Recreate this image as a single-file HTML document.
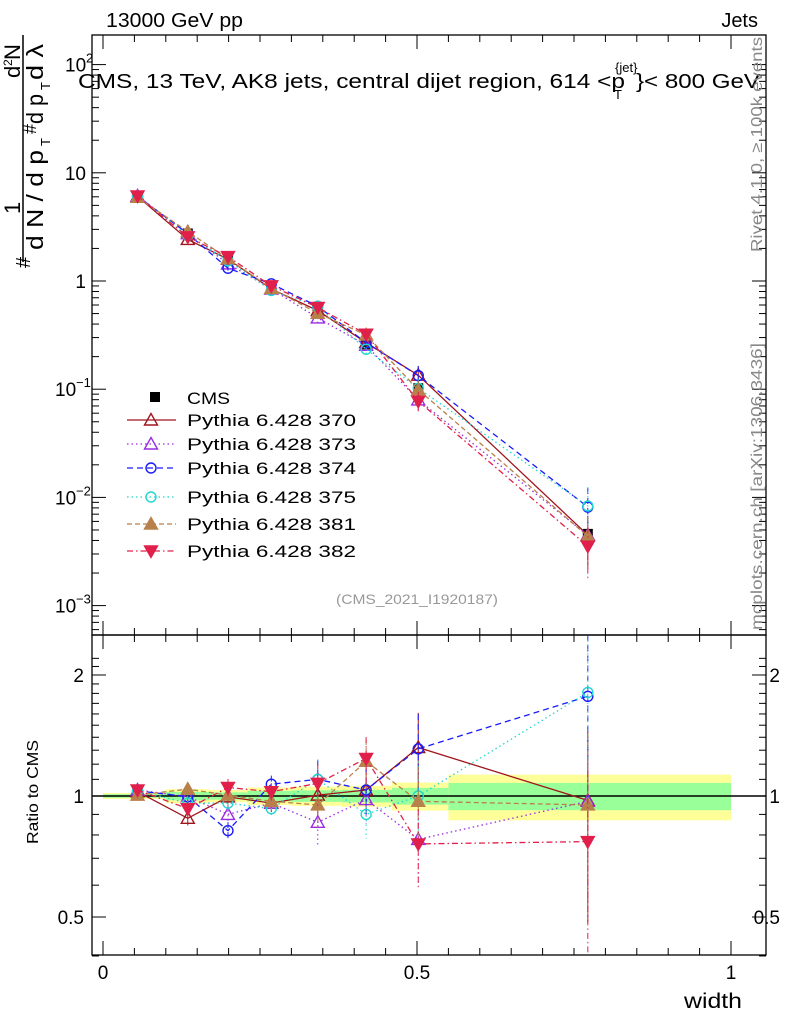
<!DOCTYPE html>
<html><head><meta charset="utf-8"><style>
body{margin:0;background:#fff;font-family:"Liberation Sans",sans-serif}
svg{display:block}
</style></head><body>
<svg id="c" width="786" height="1024" xmlns="http://www.w3.org/2000/svg" font-family="Liberation Sans, sans-serif"></svg>
<script>
const xs=[0.055,0.135,0.199,0.268,0.342,0.419,0.502,0.772];
const edges=[0,0.1,0.17,0.23,0.3,0.38,0.46,0.55,1.0];
const cms=[5.9,2.75,1.6,0.88,0.53,0.26,0.102,0.0046];
const bandY=[0.017,0.04,0.035,0.05,0.055,0.06,0.08,0.13];
const mcErr=[0.01,0.04,0.05,0.05,0.12,0.13,0.22,0.5];
const r370=[1.025,0.88,0.995,0.96,1.005,1.035,1.32,0.975];
const r373=[1.035,0.996,0.90,0.96,0.86,0.98,0.78,0.97];
const r374=[1.03,0.996,0.82,1.07,1.10,1.035,1.31,1.77];
const r375=[1.03,0.96,0.96,0.93,1.10,0.90,1.0,1.81];
const r381=[1.005,1.04,1.005,0.97,0.95,1.22,0.97,0.95];
const r382=[1.035,0.93,1.05,1.025,1.075,1.24,0.76,0.77];
const series=[
 {n:'Pythia 6.428 370',r:r370,c:'#a0141e',d:'',m:'tri',f:false,name:'series-370'},
 {n:'Pythia 6.428 373',r:r373,c:'#9a2be2',d:'1.5,3',m:'tri',f:false,name:'series-373'},
 {n:'Pythia 6.428 374',r:r374,c:'#1a1aff',d:'6,4',m:'circ',f:false,name:'series-374'},
 {n:'Pythia 6.428 375',r:r375,c:'#22d6d0',d:'1.5,3',m:'circ',f:false,name:'series-375'},
 {n:'Pythia 6.428 381',r:r381,c:'#b8804a',d:'5,3',m:'tri',f:true,name:'series-381'},
 {n:'Pythia 6.428 382',r:r382,c:'#e0204a',d:'6,3,1.5,3',m:'tdown',f:true,name:'series-382'}];
const legY=[420,444,468,497,524,551];

const S=document.getElementById('c');const NS='http://www.w3.org/2000/svg';
function el(t,a,p){const e=document.createElementNS(NS,t);for(const k in a)e.setAttribute(k,a[k]);(p||S).appendChild(e);return e;}
function tx(x,y,s,a,p){const e=el('text',Object.assign({x:x,y:y},a),p);e.textContent=s;return e;}
const X=v=>103+628*v;
const Ym=v=>281-108.2*Math.log10(v);
const Yr=v=>796-402*Math.log10(v);
const L=92,R=766,T=35,M=635,B=955;

const defs=el('defs',{});
const c1=el('clipPath',{id:'cm'},defs);el('rect',{x:L,y:T,width:R-L,height:M-T},c1);
const c2=el('clipPath',{id:'cr'},defs);el('rect',{x:L,y:M,width:R-L,height:B-M},c2);

const gb=el('g',{'clip-path':'url(#cr)'});

for(let i=0;i<8;i++){const x0=X(edges[i]),x1=X(edges[i+1]);
 el('rect',{x:x0,y:Yr(1+bandY[i]),width:x1-x0,height:Yr(1-bandY[i])-Yr(1+bandY[i]),fill:'#ffff99'},gb);
 el('rect',{x:x0,y:Yr(1+bandY[i]*0.6),width:x1-x0,height:Yr(1-bandY[i]*0.6)-Yr(1+bandY[i]*0.6),fill:'#99ff99'},gb);}
el('line',{x1:L,x2:R,y1:796,y2:796,stroke:'#000','stroke-width':1.5});

function marker(g,t,x,y,c,f){
 if(t==='tri')el('polygon',{points:`${x},${y-6.5} ${x-6.5},${y+5} ${x+6.5},${y+5}`,fill:f?c:'none',stroke:c,'stroke-width':1.4},g);
 else if(t==='tdown')el('polygon',{points:`${x},${y+6.5} ${x-6.5},${y-5} ${x+6.5},${y-5}`,fill:f?c:'none',stroke:c,'stroke-width':1.4},g);
 else if(t==='circ')el('circle',{cx:x,cy:y,r:5,fill:'none',stroke:c,'stroke-width':1.4},g);
 else el('rect',{x:x-5,y:y-5,width:10,height:10,fill:c},g);
}
const gd=el('g',{'clip-path':'url(#cm)'});

xs.forEach((x,i)=>marker(gd,'sq',X(x),Ym(cms[i]),'#000'));
series.forEach(s=>{
 const vm=s.r.map((r,i)=>r*cms[i]);
 const gm=el('g',{'clip-path':'url(#cm)'});
 
 el('polyline',{points:xs.map((x,i)=>X(x)+','+Ym(vm[i])).join(' '),fill:'none',stroke:s.c,'stroke-width':1.3,'stroke-dasharray':s.d},gm);
 xs.forEach((x,i)=>{const e=mcErr[i];el('line',{x1:X(x),x2:X(x),y1:Ym(vm[i]*(1+e)),y2:Ym(Math.max(vm[i]*(1-e),1e-5)),stroke:s.c,'stroke-width':1,'stroke-dasharray':s.d},gm);marker(gm,s.m,X(x),Ym(vm[i]),s.c,s.f);});
 const gr=el('g',{'clip-path':'url(#cr)'});
 
 el('polyline',{points:xs.map((x,i)=>X(x)+','+Yr(s.r[i])).join(' '),fill:'none',stroke:s.c,'stroke-width':1.3,'stroke-dasharray':s.d},gr);
 xs.forEach((x,i)=>{const e=mcErr[i];el('line',{x1:X(x),x2:X(x),y1:Yr(s.r[i]*(1+e)),y2:Yr(Math.max(s.r[i]*(1-e),0.1)),stroke:s.c,'stroke-width':1,'stroke-dasharray':s.d},gr);marker(gr,s.m,X(x),Yr(s.r[i]),s.c,s.f);});
});
el('rect',{x:L,y:T,width:R-L,height:M-T,fill:'none',stroke:'#000','stroke-width':1.3});
el('rect',{x:L,y:M,width:R-L,height:B-M,fill:'none',stroke:'#000','stroke-width':1.3});
const ga=el('g',{});
for(let d=-4;d<=2;d++){for(let k=1;k<10;k++){const y=Ym(k*Math.pow(10,d));if(y<T||y>M)continue;const w=k===1?14:7;
 el('line',{x1:L,x2:L+w,y1:y,y2:y,stroke:'#000'},ga);el('line',{x1:R-w,x2:R,y1:y,y2:y,stroke:'#000'},ga);}}
const mlab=[['10','2',2],['10','',1],['1','',0],['10','−1',-1],['10','−2',-2],['10','−3',-3]];
mlab.forEach(([b,e,d])=>{const y=Ym(Math.pow(10,d))+7;
 if(e){tx(e==='2'?65:55,y,b,{'font-size':19},ga);tx(e==='2'?86:76,y-9,e,{'font-size':13},ga);}
 else tx(86,y,b,{'font-size':19,'text-anchor':'end'},ga);});
const gr2=el('g',{});
[0.4,0.5,0.6,0.7,0.8,0.9,1,2].forEach(v=>{const y=Yr(v);const w=(v===0.5||v===1||v===2)?14:7;
 el('line',{x1:L,x2:L+w,y1:y,y2:y,stroke:'#000'},gr2);el('line',{x1:R-w,x2:R,y1:y,y2:y,stroke:'#000'},gr2);});
for(let v=1.1;v<2.3;v+=0.1){if(Math.abs(v-2)<0.01)continue;const y=Yr(v);if(y<M)continue;el('line',{x1:L,x2:L+7,y1:y,y2:y,stroke:'#000'},gr2);el('line',{x1:R-7,x2:R,y1:y,y2:y,stroke:'#000'},gr2);}
[['2',2],['1',1],['0.5',0.5]].forEach(([s,v])=>{tx(84,Yr(v)+7,s,{'font-size':19,'text-anchor':'end'},gr2);tx(780,Yr(v)+7,s,{'font-size':19,'text-anchor':'end'},gr2);});
const gx=el('g',{});
for(let i=0;i<=20;i++){const v=i*0.05;const x=X(v);const w=i%10===0?14:7;
 el('line',{x1:x,x2:x,y1:B,y2:B-w,stroke:'#000'},gx);el('line',{x1:x,x2:x,y1:M,y2:M+w,stroke:'#000'},gx);el('line',{x1:x,x2:x,y1:M,y2:M-w,stroke:'#000'},gx);el('line',{x1:x,x2:x,y1:T,y2:T+w,stroke:'#000'},gx);}
[['0',0],['0.5',0.5],['1',1]].forEach(([s,v])=>tx(X(v),979,s,{'font-size':19,'text-anchor':'middle'},gx));
const xl=tx(684,1008,'width',{'font-size':21,textLength:58,lengthAdjust:'spacingAndGlyphs'});
let t=tx(106,27,'13000 GeV pp',{'font-size':20,textLength:137,lengthAdjust:'spacingAndGlyphs'});
t=tx(758,27,'Jets',{'font-size':20,'text-anchor':'end'});
const tg=el('g',{});
tx(78,88,'CMS, 13 TeV, AK8 jets, central dijet region, 614 <p',{'font-size':20,textLength:547,lengthAdjust:'spacingAndGlyphs'},tg);
tx(614,99,'T',{'font-size':13},tg);tx(615,72,'{jet}',{'font-size':13},tg);
tx(636,88,'}< 800 GeV',{'font-size':20,textLength:124,lengthAdjust:'spacingAndGlyphs'},tg);
t=tx(336,604,'(CMS_2021_I1920187)',{'font-size':14,fill:'#999',textLength:162,lengthAdjust:'spacingAndGlyphs'});
t=tx(0,0,'Rivet 4.1.0, ≥ 100k events',{'font-size':16,fill:'#888',textLength:215,lengthAdjust:'spacingAndGlyphs',transform:'translate(762,252) rotate(-90)'});
t=tx(0,0,'mcplots.cern.ch [arXiv:1306.3436]',{'font-size':16,fill:'#888',textLength:287,lengthAdjust:'spacingAndGlyphs',transform:'translate(762,630) rotate(-90)'});
t=tx(0,0,'Ratio to CMS',{'font-size':16,'text-anchor':'middle',textLength:104,lengthAdjust:'spacingAndGlyphs',transform:'translate(38,792) rotate(-90)'});
const yt=el('g',{});
const rt=(s,x,y,fs,len)=>{const a={'font-size':fs,transform:`translate(${x},${y}) rotate(-90)`};if(len){a.textLength=len;a.lengthAdjust='spacingAndGlyphs';}return tx(0,0,s,a,yt);};
el('line',{x1:23,x2:23,y1:35,y2:262,stroke:'#000','stroke-width':1.5},yt);
rt('#',30,268,20);
rt('1',20,214,22);
rt('d',20,78,22);rt('2',12,66,12);rt('N',20,60,22);
rt('d N / d p',43,250,23,100);rt('T',50,146,13);
rt('#',36,134,18);
rt('d p',43,124,23,30);rt('T',50,90,13);rt('d λ',43,80,23,36);
const lg=el('g',{});
const le=el('g',{},lg);
marker(le,'sq',155,397,'#000');tx(187,404,'CMS',{'font-size':17,textLength:43,lengthAdjust:'spacingAndGlyphs'},le);
series.forEach((s,i)=>{const g=el('g',{},lg);
 const y=legY[i];el('line',{x1:127,x2:176,y1:y,y2:y,stroke:s.c,'stroke-width':1.3,'stroke-dasharray':s.d},g);marker(g,s.m,151,y,s.c,s.f);tx(187,y+6,s.n,{'font-size':17,textLength:169,lengthAdjust:'spacingAndGlyphs'},g);});
</script>
</body></html>
